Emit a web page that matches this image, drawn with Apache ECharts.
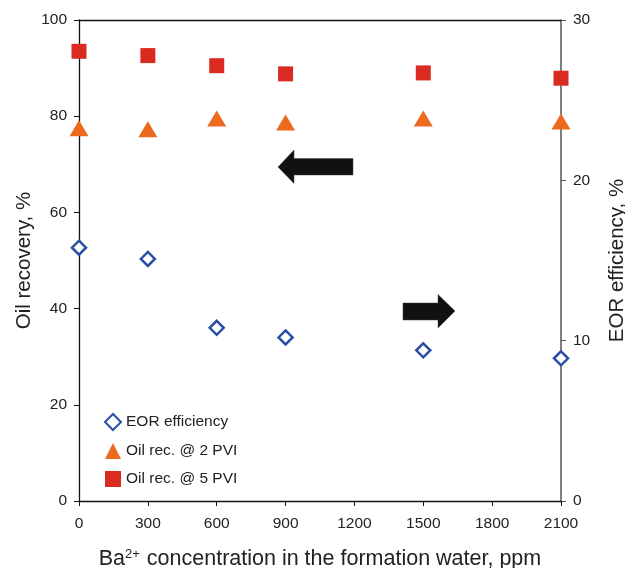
<!DOCTYPE html>
<html>
<head>
<meta charset="utf-8">
<script src="https://cdn.jsdelivr.net/npm/echarts@6/dist/echarts.min.js"></script>
<style>html,body{margin:0;padding:0;background:#fff}#c{width:625px;height:568px}</style>
</head>
<body>
<div id="c"></div>
<script>
const baConc = [0, 300, 600, 900, 1500, 2100];
const eorEfficiency = [15.8, 15.1, 10.8, 10.2, 9.4, 8.9];
const oilRec2PVI = [77.5, 77.3, 79.5, 78.7, 79.5, 78.9];
const oilRec5PVI = [93.5, 92.6, 90.5, 88.8, 89.0, 87.9];
const leftTicks = [0, 20, 40, 60, 80, 100];
const rightTicks = [0, 10, 20, 30];
const xTicks = [0, 300, 600, 900, 1200, 1500, 1800, 2100];

const FONT = 'Liberation Sans, Arial, sans-serif';
const chart = echarts.init(document.getElementById('c'), null, {renderer: 'canvas'});

function pairs(xs, ys) { return xs.map((x, i) => [x, ys[i]]); }
const plain = v => String(v);

chart.setOption({
  animation: false,
  backgroundColor: '#fff',
  grid: {left: 79, right: 64, top: 20, bottom: 67, containLabel: false, outerBoundsMode: 'none'},
  legend: {
    orient: 'vertical',
    left: 99,
    top: 408,
    itemGap: 12,
    itemWidth: 16,
    itemHeight: 16,
    textStyle: {fontFamily: FONT, fontSize: 15.5, color: '#222'},
    data: ['EOR efficiency', 'Oil rec. @ 2 PVI', 'Oil rec. @ 5 PVI']
  },
  xAxis: [{
    type: 'value', min: xTicks[0], max: xTicks[xTicks.length - 1], interval: 300,
    splitLine: {show: false},
    axisLine: {show: true, onZero: false, lineStyle: {color: '#111', width: 1.3}},
    axisTick: {show: true, length: 5, lineStyle: {color: '#111'}},
    axisLabel: {fontFamily: FONT, fontSize: 15.5, color: '#222', margin: 15, formatter: plain},
    name: '{a|Ba}{s|2+}{a| concentration in the formation water, ppm}',
    nameLocation: 'middle', nameGap: 47, nameMoveOverlap: false,
    nameTextStyle: {
      rich: {
        a: {fontFamily: FONT, fontSize: 21.5, color: '#222'},
        s: {fontFamily: FONT, fontSize: 13, color: '#222', verticalAlign: 'top', padding: [0, 1, 9, 0]}
      }
    }
  }, {
    type: 'value', position: 'top', min: 0, max: 2100,
    axisLine: {show: true, onZero: false, lineStyle: {color: '#111', width: 1.3}},
    axisTick: {show: false}, axisLabel: {show: false}, splitLine: {show: false}
  }],
  yAxis: [{
    type: 'value', min: leftTicks[0], max: leftTicks[leftTicks.length - 1], interval: 20,
    position: 'left',
    splitLine: {show: false},
    axisLine: {show: true, onZero: false, lineStyle: {color: '#111', width: 1.3}},
    axisTick: {show: true, length: 5, lineStyle: {color: '#111'}},
    axisLabel: {fontFamily: FONT, fontSize: 15.5, color: '#222', margin: 12, formatter: plain},
    name: 'Oil recovery, %', nameLocation: 'middle', nameGap: 44, nameMoveOverlap: false,
    nameTextStyle: {fontFamily: FONT, fontSize: 20.5, color: '#222'}
  }, {
    type: 'value', min: rightTicks[0], max: rightTicks[rightTicks.length - 1], interval: 10,
    position: 'right',
    splitLine: {show: false},
    axisLine: {show: true, onZero: false, lineStyle: {color: '#555', width: 1.5}},
    axisTick: {show: true, length: 5, lineStyle: {color: '#555'}},
    axisLabel: {fontFamily: FONT, fontSize: 15.5, color: '#222', margin: 12, formatter: plain},
    name: 'EOR efficiency, %', nameLocation: 'middle', nameGap: 46, nameMoveOverlap: false,
    nameRotate: 90,
    nameTextStyle: {fontFamily: FONT, fontSize: 20.5, color: '#222'}
  }],
  series: [{
    name: 'EOR efficiency', type: 'scatter', yAxisIndex: 1,
    symbol: 'diamond', symbolSize: 14,
    itemStyle: {color: '#fff', borderColor: '#2a4ea6', borderWidth: 2.5, opacity: 1},
    data: pairs(baConc, eorEfficiency), z: 3
  }, {
    name: 'Oil rec. @ 2 PVI', type: 'scatter', yAxisIndex: 0,
    symbol: 'triangle', symbolSize: [19, 16],
    itemStyle: {color: '#ec6a1f', opacity: 1},
    data: pairs(baConc, oilRec2PVI), z: 3
  }, {
    name: 'Oil rec. @ 5 PVI', type: 'scatter', yAxisIndex: 0,
    symbol: 'rect', symbolSize: 15,
    itemStyle: {color: '#d92b22', opacity: 1},
    data: pairs(baConc, oilRec5PVI), z: 3
  }],
  graphic: [{
    type: 'polygon',
    shape: {points: [[278, 167], [294, 150], [294, 158.5], [353, 158.5], [353, 175], [294, 175], [294, 183.5]]},
    style: {fill: '#111', stroke: '#444', lineWidth: 0.5}
  }, {
    type: 'polygon',
    shape: {points: [[455, 311], [438, 294.5], [438, 303], [403, 303], [403, 320], [438, 320], [438, 328]]},
    style: {fill: '#111', stroke: '#444', lineWidth: 0.5}
  }]
});
</script>
</body>
</html>
